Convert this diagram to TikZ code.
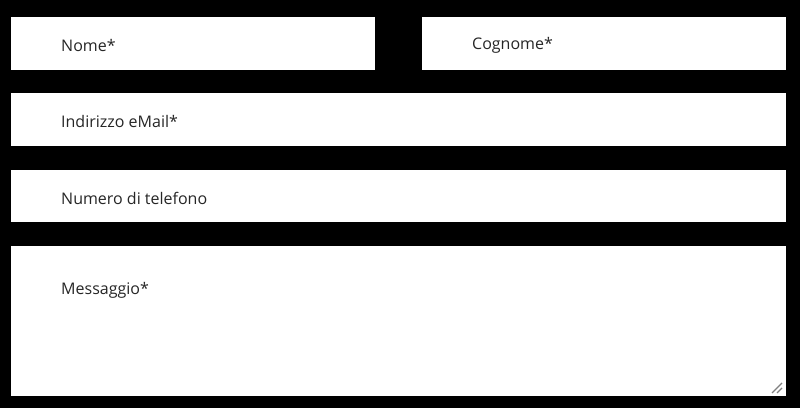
\documentclass[tikz,border=0pt]{standalone}
\usepackage{fontspec}
\setmainfont{Open Sans}
\begin{document}
\begin{tikzpicture}[x=1pt,y=-1pt,
  field/.style={fill=white,draw=none},
  lab/.style={anchor=west,inner sep=0pt,font=\fontsize{16}{18}\selectfont,text=black!85}]
\fill[black] (0,0) rectangle (800,408);
\useasboundingbox (0,0) rectangle (800,408);
\fill[field] (11,17) rectangle (375,70);
\fill[field] (422,17) rectangle (786,70);
\fill[field] (11,93) rectangle (786,146);
\fill[field] (11,170) rectangle (786,222);
\fill[field] (11,246) rectangle (786,396);
\node[lab] (n) at (61,45) {Nome*};
\node[lab] (c) at (472,45) {Cognome*};
\node[lab] (e) at (61,121) {Indirizzo eMail*};
\node[lab] (t) at (61,198) {Numero di telefono};
\node[lab] (m) at (61,290) {Messaggio*};
\draw[gray,line width=1.2pt] (772,393) -- (782,383);
\draw[gray,line width=1.2pt] (777,393) -- (782,388);
\end{tikzpicture}
\end{document}
